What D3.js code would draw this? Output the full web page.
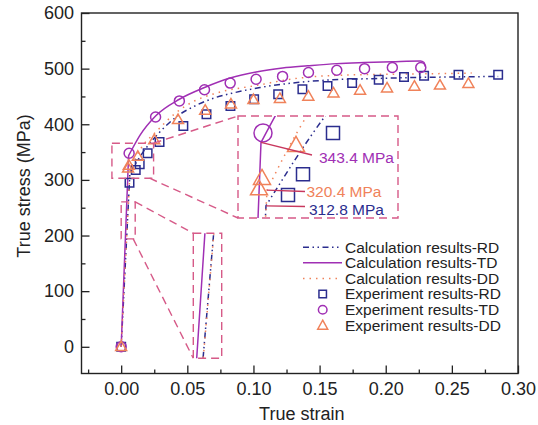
<!DOCTYPE html>
<html><head><meta charset="utf-8">
<script src="https://cdn.jsdelivr.net/npm/d3@7"></script>
<style>body{margin:0;background:#fff}svg{display:block}</style>
</head><body><svg id="c" width="538" height="425"></svg>
<script>
// ---------- data ----------
const xTicks = [0, 0.05, 0.10, 0.15, 0.20, 0.25, 0.30];
const xMinor = [-0.025, 0.025, 0.075, 0.125, 0.175, 0.225, 0.275];
const yTicks = [0, 100, 200, 300, 400, 500, 600];
const yMinor = [50, 150, 250, 350, 450, 550];

// calculated curves [strain, stress]; first segment is elastic
const calcRD = [[0,0],[0.0066,312.8],[0.0187,357],[0.03,388],[0.042,414],[0.055,432],[0.070,447],[0.086,457],[0.105,466],[0.133,475],[0.160,480],[0.190,482],[0.220,484],[0.250,485],[0.285,486]];
const calcTD = [[0,0],[0.0056,343.4],[0.0084,356],[0.0144,381],[0.026,415],[0.044,445],[0.063,466],[0.0824,483],[0.102,494],[0.122,501],[0.141,505],[0.163,509],[0.184,511],[0.205,512.5],[0.2263,513.7],[0.2290,511],[0.2300,503.5]];
const calcDD = [[0,0],[0.0068,320.4],[0.015,357],[0.027,388],[0.040,418],[0.0547,441],[0.072,456],[0.105,471],[0.128,481],[0.148,486],[0.178,489],[0.206,490],[0.239,491],[0.265,492]];

// experiments
const expRD = [[0,0],[0.0063,295],[0.011,318],[0.014,328],[0.020,348],[0.029,368],[0.047,397],[0.0645,418],[0.0826,433],[0.1005,445],[0.1187,454],[0.137,463],[0.156,469],[0.1746,474],[0.1947,480],[0.2138,485],[0.229,487],[0.255,489],[0.285,489]];
const expTD = [[0,0],[0.006,348],[0.026,413],[0.044,442],[0.063,462],[0.0824,474],[0.102,481],[0.122,486],[0.1416,493],[0.163,497],[0.184,500],[0.205,502],[0.2265,502]];
const expDD = [[0,0],[0.0052,321],[0.0058,326],[0.0126,342],[0.025,372],[0.043,408],[0.0635,425],[0.083,436],[0.100,444],[0.120,446],[0.1415,450],[0.1605,456],[0.1806,461],[0.201,465],[0.2217,468],[0.241,470],[0.2625,473]];

const yieldLabels = ["343.4 MPa", "320.4 MPa", "312.8 MPa"];
const legendLabels = ["Calculation results-RD","Calculation results-TD","Calculation results-DD","Experiment results-RD","Experiment results-TD","Experiment results-DD"];

// zoom windows (data coords): [x0,x1,y0,y1]
const zoom1 = [-0.007, 0.0245, 303, 366];
const zoom1View = [0.001, 0.033, 306.9, 356.2];
const zoom2 = [0.0, 0.0106, 194, 260.5];
const zoom2View = [0.00261, 0.00668, 190, 262];

// ---------- style ----------
const C = {rd:"#2B2D8E", td:"#A02FB4", dd:"#F0825A", box:"#D65A88", lead:"#C8385E", axis:"#222"};
const FONT = "'Liberation Sans', Arial, Helvetica, sans-serif";

const svg = d3.select("#c");
const x = d3.scaleLinear().domain([-0.03, 0.30]).range([81.5, 518]);
const y = d3.scaleLinear().domain([-48, 600]).range([373.5, 13]);

// ---------- axes ----------
const gx = svg.append("g").attr("transform", `translate(0,${y.range()[0]})`)
  .call(d3.axisBottom(x).tickValues(xTicks).tickFormat(d3.format(".2f")).tickSize(-8).tickPadding(8.5));
const gxm = svg.append("g").attr("transform", `translate(0,${y.range()[0]})`)
  .call(d3.axisBottom(x).tickValues(xMinor).tickFormat("").tickSize(-4));
const gy = svg.append("g").attr("transform", `translate(${x.range()[0]},0)`)
  .call(d3.axisLeft(y).tickValues(yTicks).tickFormat(d3.format("d")).tickSize(-8).tickPadding(7.5));
const gym = svg.append("g").attr("transform", `translate(${x.range()[0]},0)`)
  .call(d3.axisLeft(y).tickValues(yMinor).tickFormat("").tickSize(-4));
[gx,gxm,gy,gym].forEach(g => {
  g.select(".domain").remove();
  g.selectAll("line").attr("stroke", C.axis).attr("stroke-width", 1.3);
  g.selectAll("text").attr("fill", C.axis).style("font-family", FONT).style("font-size", "18px");
});
svg.append("rect").attr("x", x.range()[0]).attr("y", y.range()[1])
  .attr("width", x.range()[1]-x.range()[0]).attr("height", y.range()[0]-y.range()[1])
  .attr("fill", "none").attr("stroke", C.axis).attr("stroke-width", 1.4);

svg.append("text").attr("x", (x.range()[0]+x.range()[1])/2 + 2).attr("y", 414).attr("dy","0.35em")
  .attr("text-anchor","middle").style("font-family",FONT).style("font-size","18px").attr("fill",C.axis).text("True strain");
svg.append("text").attr("transform","translate(24,186) rotate(-90)").attr("dy","0.35em")
  .attr("text-anchor","middle").style("font-family",FONT).style("font-size","18px").attr("fill",C.axis).text("True stress (MPa)");

// ---------- helpers ----------
function curvePath(data, xs, ys) {
  const lin = d3.line().x(d => xs(d[0])).y(d => ys(d[1]));
  const mono = d3.line().x(d => xs(d[0])).y(d => ys(d[1])).curve(d3.curveMonotoneX);
  return lin(data.slice(0,2)) + mono(data.slice(1)).replace(/^M/, "L");
}
const lineStyles = [
  {data: calcRD, color: C.rd, dash: "6,3.5,1.5,3.5,1.5,3.5"},
  {data: calcTD, color: C.td, dash: null},
  {data: calcDD, color: C.dd, dash: "1.5,5"}
];
function squarePath(s){ const h=s/2; return `M${-h},${-h}H${h}V${h}H${-h}Z`; }
function triPath(w,h){ return `M0,${-h*0.6}L${w/2},${h*0.4}L${-w/2},${h*0.4}Z`; }

function drawMarkers(g, xs, ys, sz) {
  g.selectAll(null).data(expRD).join("path")
    .attr("transform", d => `translate(${xs(d[0])},${ys(d[1])})`)
    .attr("d", squarePath(sz.sq)).attr("fill","none").attr("stroke",C.rd).attr("stroke-width",sz.sw);
  g.selectAll(null).data(expTD).join("circle")
    .attr("cx", d => xs(d[0])).attr("cy", d => ys(d[1])).attr("r", sz.r)
    .attr("fill","none").attr("stroke",C.td).attr("stroke-width",sz.sw);
  g.selectAll(null).data(expDD).join("path")
    .attr("transform", d => `translate(${xs(d[0])},${ys(d[1])})`)
    .attr("d", triPath(sz.tw, sz.th)).attr("fill","none").attr("stroke",C.dd).attr("stroke-width",sz.sw);
}
function drawLines(g, xs, ys, sw) {
  lineStyles.forEach(s => {
    g.append("path").attr("d", curvePath(s.data, xs, ys)).attr("fill","none")
      .attr("stroke", s.color).attr("stroke-width", sw).attr("stroke-dasharray", s.dash);
  });
}

// ---------- main plot ----------
const defs = svg.append("defs");
defs.append("clipPath").attr("id","plotClip").append("rect")
  .attr("x", x.range()[0]).attr("y", y.range()[1]).attr("width", x.range()[1]-x.range()[0]).attr("height", y.range()[0]-y.range()[1]);
const main = svg.append("g").attr("clip-path","url(#plotClip)");

// ---------- zoom frames ----------
function frame(z){ return {x0:x(z[0]), x1:x(z[1]), y0:y(z[3]), y1:y(z[2])}; }
function dashRect(g, r){
  g.append("rect").attr("x", r.x0).attr("y", r.y0).attr("width", r.x1-r.x0).attr("height", r.y1-r.y0)
    .attr("fill","none").attr("stroke",C.box).attr("stroke-width",1.4).attr("stroke-dasharray","8,5");
}
function dashLine(g, a, b){
  g.append("line").attr("x1",a[0]).attr("y1",a[1]).attr("x2",b[0]).attr("y2",b[1])
    .attr("stroke",C.box).attr("stroke-width",1.4).attr("stroke-dasharray","8,5");
}
const big1 = {x0:238, x1:398, y0:116, y1:218};
const big2 = {x0:193.3, x1:221.7, y0:233.3, y1:358.3};
const f1 = frame(zoom1), f2 = frame(zoom2);

const frames = svg.append("g");
dashLine(frames, [f1.x1, f1.y0], [big1.x0, big1.y0]);
dashLine(frames, [f1.x1-4, f1.y1], [big1.x0, big1.y1]);
dashLine(frames, [f2.x1, f2.y0], [big2.x0, big2.y0]);
dashLine(frames, [f2.x1-2, f2.y1], [big2.x0, big2.y1]);

drawLines(main, x, y, 1.5);
drawMarkers(main, x, y, {sq:8.5, r:5, tw:11, th:9.5, sw:1.5});

dashRect(frames, f1);
dashRect(frames, f2);

// inset 1
const ix1 = d3.scaleLinear().domain(zoom1View.slice(0,2)).range([big1.x0, big1.x1]);
const iy1 = d3.scaleLinear().domain(zoom1View.slice(2,4)).range([big1.y1, big1.y0]);
defs.append("clipPath").attr("id","in1").append("rect").attr("x",big1.x0).attr("y",big1.y0).attr("width",big1.x1-big1.x0).attr("height",big1.y1-big1.y0);
const in1 = svg.append("g").attr("clip-path","url(#in1)");
drawLines(in1, ix1, iy1, 1.5);
drawMarkers(in1, ix1, iy1, {sq:13, r:9, tw:17, th:15, sw:1.5});

// inset 2
const ix2 = d3.scaleLinear().domain(zoom2View.slice(0,2)).range([big2.x0, big2.x1]);
const iy2 = d3.scaleLinear().domain(zoom2View.slice(2,4)).range([big2.y1, big2.y0]);
defs.append("clipPath").attr("id","in2").append("rect").attr("x",big2.x0).attr("y",big2.y0).attr("width",big2.x1-big2.x0).attr("height",big2.y1-big2.y0);
const in2 = svg.append("g").attr("clip-path","url(#in2)");
drawLines(in2, ix2, iy2, 1.5);

frames.raise();
dashRect(frames, big1);
dashRect(frames, big2);

// yield annotations in inset 1
const yieldPts = [calcTD[1], calcDD[1], calcRD[1]];
const yieldColors = [C.td, C.dd, C.rd];
const leadEnds = [[312,155],[305,191.5],[305,206.5]];
const textPos = [[319,158],[306.5,191.5],[309,209.5]];
const ann = svg.append("g");
yieldPts.forEach((p,i) => {
  ann.append("line").attr("x1", ix1(p[0])).attr("y1", iy1(p[1])).attr("x2", leadEnds[i][0]).attr("y2", leadEnds[i][1])
    .attr("stroke", C.lead).attr("stroke-width", 1.3);
  ann.append("text").attr("x", textPos[i][0]).attr("y", textPos[i][1]).attr("dy","0.35em")
    .style("font-family",FONT).style("font-size","15.5px").attr("fill", yieldColors[i]).text(yieldLabels[i]);
});

// ---------- legend ----------
const leg = svg.append("g");
const rowY = [247.3, 262.8, 278.4, 294, 309.8, 325.6];
lineStyles.forEach((s,i) => {
  leg.append("line").attr("x1",303).attr("x2",342).attr("y1",rowY[i]).attr("y2",rowY[i])
    .attr("stroke",s.color).attr("stroke-width",1.5).attr("stroke-dasharray",s.dash);
});
leg.append("path").attr("transform",`translate(322.7,${rowY[3]})`).attr("d",squarePath(7.5)).attr("fill","none").attr("stroke",C.rd).attr("stroke-width",1.5);
leg.append("circle").attr("cx",322.7).attr("cy",rowY[4]).attr("r",4.3).attr("fill","none").attr("stroke",C.td).attr("stroke-width",1.5);
leg.append("path").attr("transform",`translate(322.7,${rowY[5]})`).attr("d",triPath(10,9)).attr("fill","none").attr("stroke",C.dd).attr("stroke-width",1.5);
legendLabels.forEach((t,i) => {
  leg.append("text").attr("x",345).attr("y",rowY[i]).attr("dy","0.35em")
    .style("font-family",FONT).style("font-size","15.5px").attr("fill",C.axis).text(t);
});
</script></body></html>
